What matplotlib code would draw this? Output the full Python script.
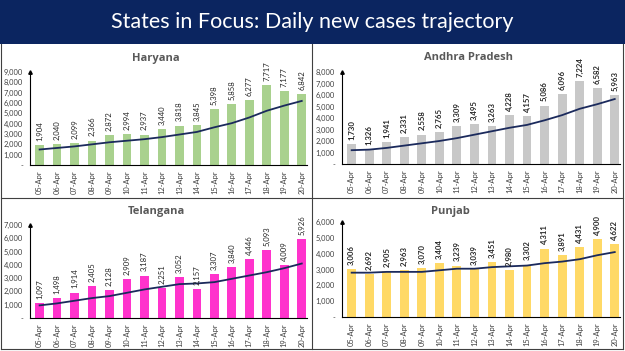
import matplotlib
matplotlib.use("Agg")
import matplotlib.pyplot as plt
from matplotlib.patches import Rectangle
from matplotlib.ticker import FuncFormatter

plt.rcParams["font.family"] = ["Lato", "DejaVu Sans"]

dates = ["05-Apr", "06-Apr", "07-Apr", "08-Apr", "09-Apr", "10-Apr", "11-Apr", "12-Apr",
         "13-Apr", "14-Apr", "15-Apr", "16-Apr", "17-Apr", "18-Apr", "19-Apr", "20-Apr"]

haryana = [1904, 2040, 2099, 2366, 2872, 2994, 2937, 3440, 3818, 3845, 5398, 5858, 6277, 7717, 7177, 6842]
haryana_trend = [1500, 1650, 1800, 2000, 2200, 2350, 2500, 2700, 2950, 3200, 3650, 4050, 4600, 5250, 5750, 6200]

andhra = [1730, 1326, 1941, 2331, 2558, 2765, 3309, 3495, 3263, 4228, 4157, 5086, 6096, 7224, 6582, 5963]
andhra_trend = [1200, 1250, 1400, 1600, 1800, 2000, 2250, 2550, 2850, 3150, 3400, 3800, 4250, 4800, 5200, 5650]

telangana = [1097, 1498, 1914, 2405, 2128, 2909, 3187, 2251, 3052, 2157, 3307, 3840, 4446, 5093, 4009, 5926]
telangana_trend = [950, 1100, 1300, 1500, 1650, 1900, 2150, 2350, 2550, 2600, 2700, 2950, 3200, 3450, 3750, 4100]

punjab = [3006, 2692, 2905, 2963, 3070, 3404, 3239, 3039, 3451, 2980, 3302, 4311, 3891, 4431, 4900, 4622]
punjab_trend = [2800, 2800, 2850, 2850, 2850, 2950, 3050, 3050, 3150, 3200, 3250, 3400, 3500, 3650, 3900, 4100]

W, H = 625, 351
fig = plt.figure(figsize=(W / 100, H / 100), dpi=100)
fig.patch.set_facecolor("white")

# title band
fig.patches.append(Rectangle((0, 1 - 44 / H), 1, 44 / H, transform=fig.transFigure,
                             facecolor="#0b2560", edgecolor="none", zorder=0))
fig.text(0.5, 1 - 22 / H, "States in Focus: Daily new cases trajectory", color="white",
         fontsize=15.5, ha="center", va="center")

# panel separators
line_kw = dict(color="#404040", lw=0.8, transform=fig.transFigure)
fig.lines.append(plt.Line2D([312 / W, 312 / W], [1 - 44 / H, 1 - 349 / H], **line_kw))
fig.lines.append(plt.Line2D([1 / W, 623 / W], [1 - 198 / H, 1 - 198 / H], **line_kw))
fig.lines.append(plt.Line2D([1 / W, 1 / W], [1 - 44 / H, 1 - 349 / H], **line_kw))
fig.lines.append(plt.Line2D([623 / W, 623 / W], [1 - 44 / H, 1 - 349 / H], **line_kw))
fig.lines.append(plt.Line2D([1 / W, 623 / W], [1 - 349 / H, 1 - 349 / H], **line_kw))

fmt = FuncFormatter(lambda v, p: "-" if v == 0 else f"{int(v):,}")

panels = [
    ("Haryana", haryana, haryana_trend, "#a9d18e", 9000, (30, 72, 307, 165), (156, 58), False),
    ("Andhra Pradesh", andhra, andhra_trend, "#c8c8c8", 8000, (342, 72, 620, 164), (468, 58), True),
    ("Telangana", telangana, telangana_trend, "#ff33cc", 7000, (30, 225, 307, 318), (156, 211), False),
    ("Punjab", punjab, punjab_trend, "#ffd966", 6000, (342, 222, 620, 317), (450, 211), True),
]

for name, vals, trend, color, ymax, (l, t, r, b), (tx, ty), bold in panels:
    ax = fig.add_axes([l / W, 1 - b / H, (r - l) / W, (b - t) / H])
    x = range(len(dates))
    ax.bar(x, vals, width=0.5, color=color, zorder=2)
    ax.plot(x, trend, color="#1b2a5c", lw=1.3, zorder=3)
    for i, v in enumerate(vals):
        ax.text(i, v + ymax * 0.045, f"{v:,}", rotation=90, ha="center", va="bottom",
                fontsize=5.6, color="#262626", fontweight="bold" if bold else "normal")
    ax.set_xlim(-0.55, 15.3)
    ax.set_ylim(0, ymax)
    ax.set_yticks(range(0, ymax + 1, 1000))
    ax.yaxis.set_major_formatter(fmt)
    ax.set_xticks(list(x))
    ax.set_xticklabels(dates, rotation=90)
    ax.tick_params(axis="both", length=0, labelsize=5.4, colors="#404040")
    ax.tick_params(axis="x", pad=4)
    ax.tick_params(axis="y", pad=5)
    for s in ["top", "right"]:
        ax.spines[s].set_visible(False)
    ax.spines["left"].set_linewidth(0.8)
    ax.spines["bottom"].set_linewidth(0.8)
    ax.plot([-0.55], [ymax], marker="^", ms=2.5, color="black", clip_on=False, zorder=4)
    ax.patch.set_alpha(0)
    fig.text(tx / W, 1 - ty / H, name, ha="center", va="center", fontsize=8,
             fontweight="bold", color="#595959", family="Open Sans")

fig.savefig("out.png", dpi=100)
